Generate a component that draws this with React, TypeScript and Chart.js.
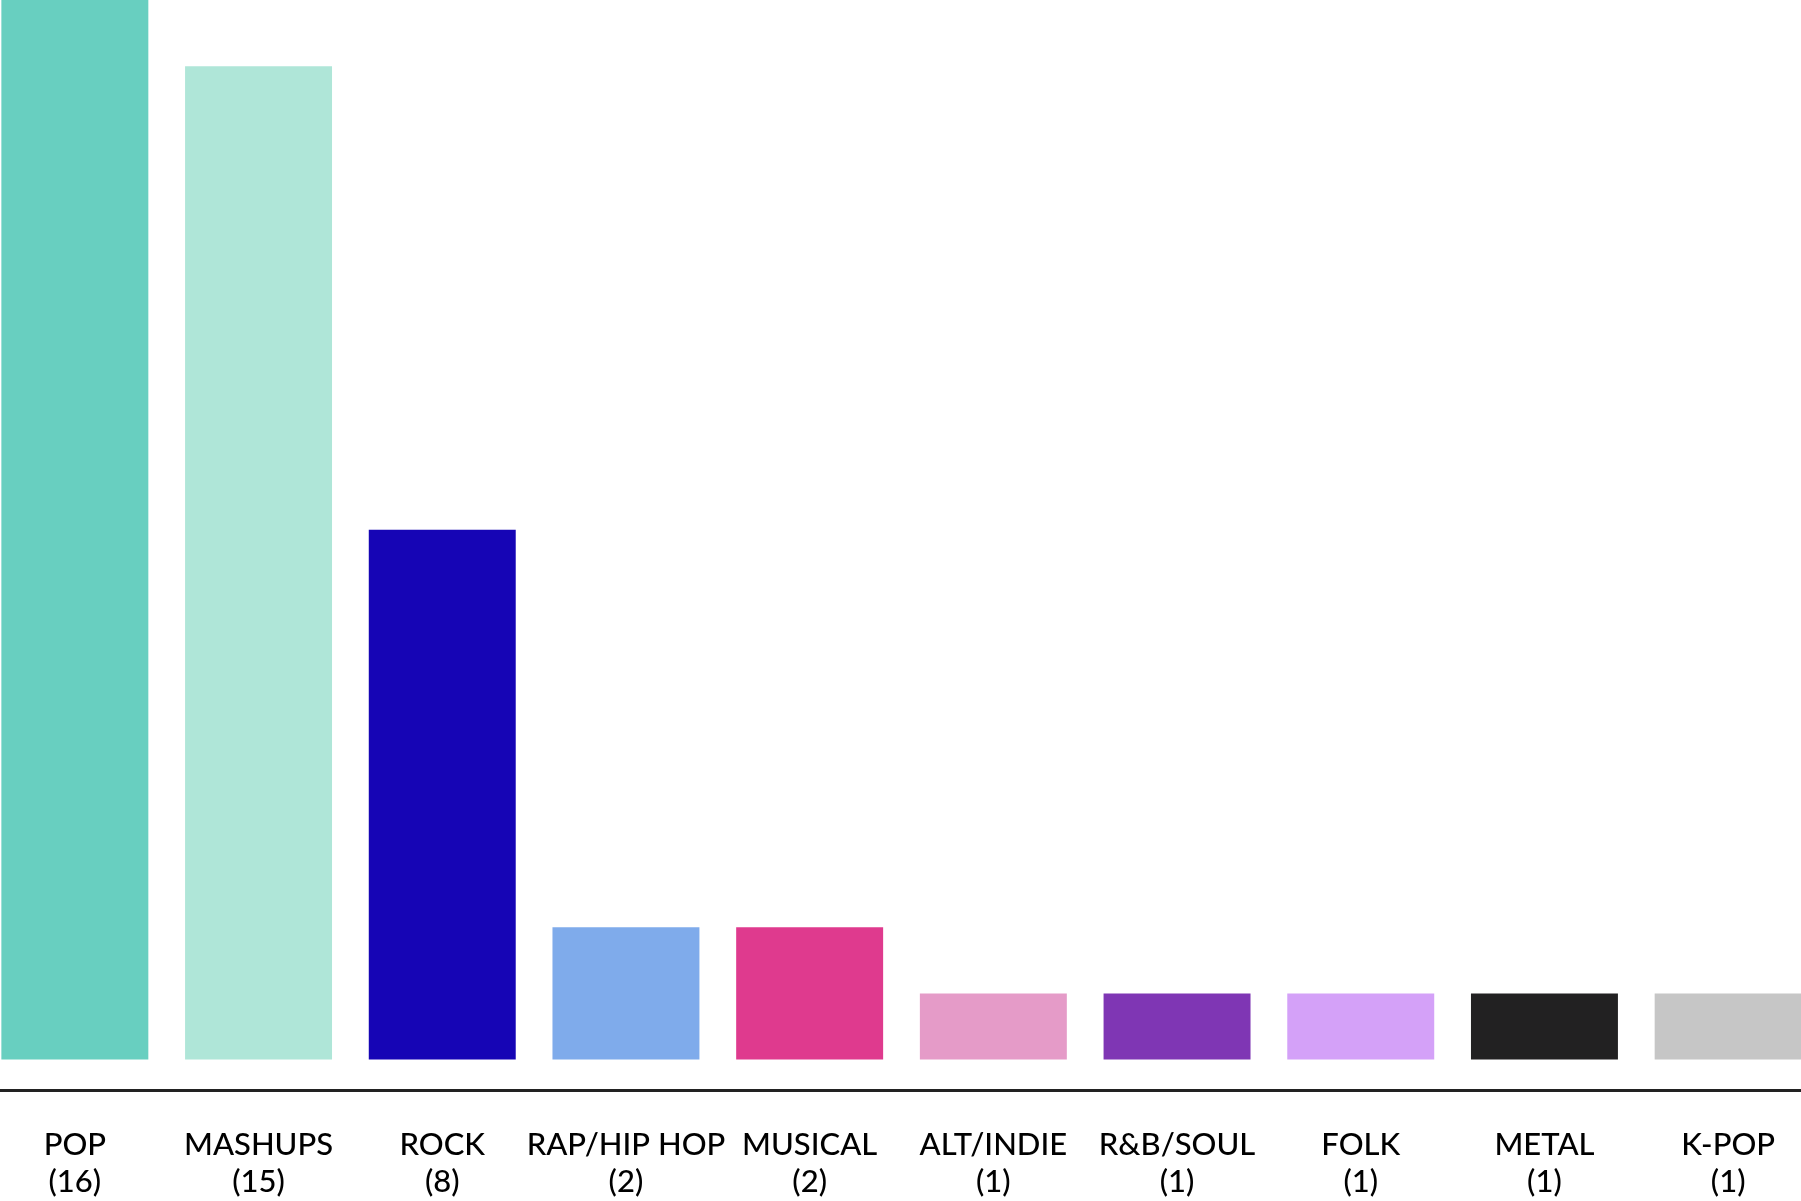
import React, { useEffect, useRef } from "react";
import { Chart, registerables } from "chart.js";

Chart.register(...registerables);

const genres = ["POP", "MASHUPS", "ROCK", "RAP/HIP HOP", "MUSICAL", "ALT/INDIE", "R&B/SOUL", "FOLK", "METAL", "K-POP"];
const counts = [16, 15, 8, 2, 2, 1, 1, 1, 1, 1];
const barColors = ["#68CFC0", "#AFE6D8", "#1605B5", "#7FABEB", "#DF3A8E", "#E59BC8", "#7F36B4", "#D4A1F8", "#222122", "#C6C6C6"];
const tickLabels = genres.map((g, i) => [g, `(${counts[i]})`]);

const W = 1837;
const H = 1237;

export default function App() {
  const ref = useRef<HTMLCanvasElement | null>(null);
  useEffect(() => {
    if (!ref.current) return;
    const chart = new Chart(ref.current, {
      type: "bar",
      data: {
        labels: tickLabels,
        datasets: [
          {
            data: counts,
            backgroundColor: barColors,
            borderWidth: 0,
            categoryPercentage: 1,
            barPercentage: 0.8,
          },
        ],
      },
      options: {
        responsive: false,
        animation: false,
        layout: { padding: 0 },
        plugins: { legend: { display: false }, tooltip: { enabled: false } },
        scales: {
          y: {
            display: false,
            min: -0.468,
            max: 16,
          },
          x: {
            grid: { display: false, drawTicks: false },
            border: { display: true, color: "#222222", width: 3 },
            ticks: {
              color: "#000000",
              padding: 36,
              maxRotation: 0,
              autoSkip: false,
              font: { family: "Lato", size: 31, weight: "500", lineHeight: 1.2 },
            },
          },
        },
      },
    });
    return () => chart.destroy();
  }, []);
  return (
    <div style={{ position: "fixed", left: -17, top: 0, width: W, height: H, background: "#fff" }}>
      <canvas ref={ref} width={W} height={H} style={{ width: W, height: H, display: "block" }} />
    </div>
  );
}
